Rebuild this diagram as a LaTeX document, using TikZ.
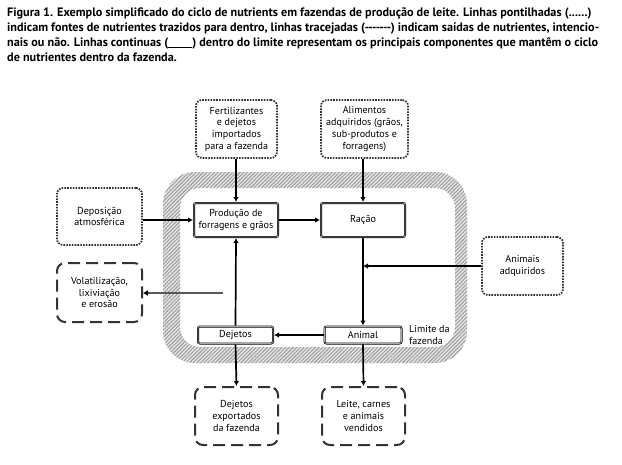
\documentclass[tikz,border=0pt]{standalone}
\usepackage{fontspec}
\setmainfont{PT Sans}
\usetikzlibrary{arrows.meta,patterns.meta}
\begin{document}
\begin{tikzpicture}[x=1pt,y=-1pt,
  boxtext/.style={align=center, inner sep=0pt, font=\fontsize{10.1}{11.7}\selectfont},
  inbox/.style={boxtext, draw=black!80, line width=1.8pt, dash pattern=on 1.6pt off 1.2pt, rounded corners=6pt, fill=white},
  outbox/.style={boxtext, draw=black!80, line width=2pt, dash pattern=on 12pt off 6pt, rounded corners=8pt, fill=white},
  farmbox/.style={boxtext, draw=black, line width=2pt, rounded corners=2pt, fill=white,
    postaction={draw=gray!70, line width=0.8pt, rounded corners=1pt, shorten >=0pt}},
  flow/.style={line width=1.7pt, -{Latex[length=5pt,width=5.5pt]}},
  loss/.style={line width=2.8pt, draw=black!65, -{Latex[length=5pt,width=6pt,color=black]}}
]
\useasboundingbox (0,0) rectangle (622,464);

% title
\node[anchor=north west, align=left, inner sep=0pt, font=\fontsize{12.2}{15.2}\bfseries\selectfont] (title) at (7,7)
{Figura 1. Exemplo simplificado do ciclo de nutrients em fazendas de produção de leite. Linhas pontilhadas (......)\\
indicam fontes de nutrientes trazidos para dentro, linhas tracejadas (-{}-{}-{}-{}-{}-{}-) indicam saídas de nutrientes, intencio-\\
nais ou não. Linhas continuas (\rule[-1pt]{24pt}{0.7pt}) dentro do limite representam os principais  componentes que mantêm o ciclo\\
de nutrientes dentro da fazenda.};

% farm boundary (hatched band)
\fill[gray!18, even odd rule, rounded corners=32pt] (163,172) rectangle (467,363)
  [rounded corners=20pt] (180,188) rectangle (455,347);
\fill[pattern={Lines[angle=45, distance=2.6pt, line width=1.1pt]}, pattern color=gray!75, even odd rule, rounded corners=32pt] (163,172) rectangle (467,363)
  [rounded corners=20pt] (180,188) rectangle (455,347);

% nodes
\node[inbox, minimum width=81pt, minimum height=58pt] (fert) at (236.5,129) {Fertilizantes\\e dejetos\\importados\\para a fazenda};
\node[inbox, minimum width=87pt, minimum height=58pt] (alim) at (364.5,129) {Alimentos\\adquiridos (grãos,\\sub-produtos e\\forragens)};
\node[inbox, minimum width=85pt, minimum height=57pt] (depo) at (99.5,216.5) {Deposição\\atmosférica};
\node[inbox, minimum width=81pt, minimum height=58pt] (anim) at (522.5,266) {Animais\\adquiridos};
\node[farmbox, minimum width=84pt, minimum height=34pt] (prod) at (236,220) {Produção de\\forragens e grãos};
\node[farmbox, minimum width=84pt, minimum height=34pt] (racao) at (363,220) {Ração};
\node[farmbox, minimum width=75pt, minimum height=17pt] (dej) at (235.5,335) {Dejetos};
\node[farmbox, minimum width=77pt, minimum height=17pt] (animal) at (363,335) {Animal};
\node[outbox, minimum width=85pt, minimum height=59pt] (vol) at (99.5,292.5) {Volatilização,\\lixiviação\\e erosão};
\node[outbox, minimum width=83pt, minimum height=58pt] (dejexp) at (236.5,416) {Dejetos\\exportados\\da fazenda};
\node[outbox, minimum width=83pt, minimum height=58pt] (leite) at (363.5,416) {Leite, carnes\\e animais\\vendidos};
\node[boxtext, align=left, anchor=west] (limite) at (409,335) {Limite da\\fazenda};

% connectors
\coordinate (volsrc) at (223,293);
\coordinate (join) at (363,266);
\draw[flow] (fert.south -| prod.north) -- (prod.north);
\draw[flow] (alim.south -| racao.north) -- (racao.north);
\draw[flow] (depo.east |- prod.west) -- (prod.west);
\draw[flow] (prod.east) -- (racao.west);
\draw[flow] (racao.south) -- (animal.north);
\draw[flow] (anim.west |- join) -- (join);
\draw[flow] (animal.west) -- (dej.east);
\draw[flow] (dej.north) -- (prod.south);
\draw[loss] (volsrc) -- (vol.east |- volsrc);
\draw[flow] (dej.south) -- (dejexp.north);
\draw[flow] (animal.south) -- (leite.north);
\end{tikzpicture}
\end{document}
